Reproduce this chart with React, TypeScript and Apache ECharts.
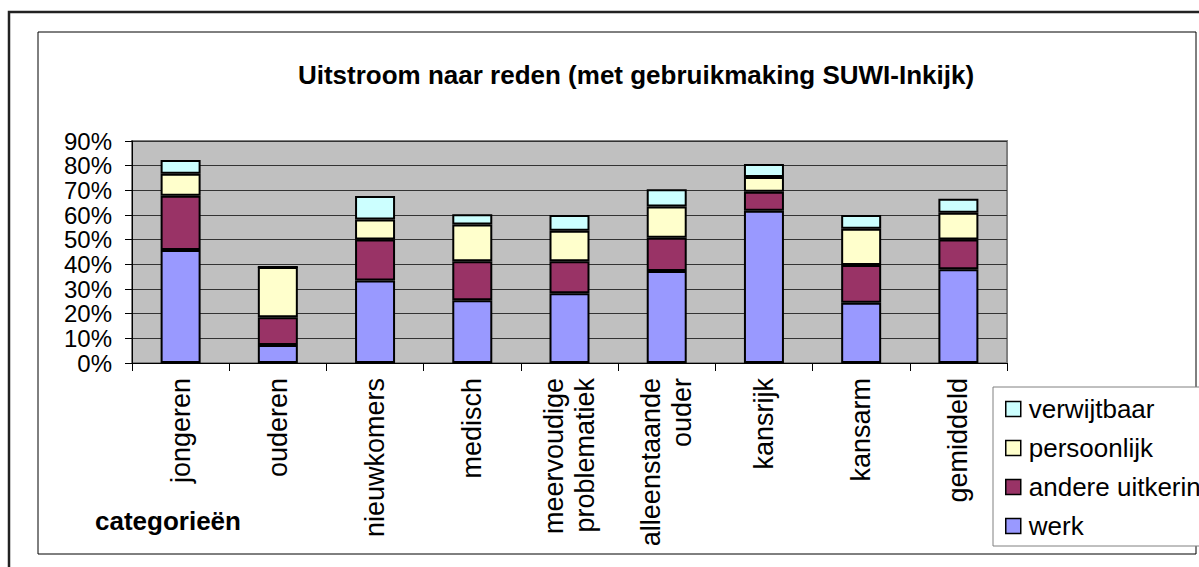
import React, { useEffect, useRef } from "react";
import * as echarts from "echarts";

const categories = [
  "jongeren",
  "ouderen",
  "nieuwkomers",
  "medisch",
  "meervoudige\nproblematiek",
  "alleenstaande\nouder",
  "kansrijk",
  "kansarm",
  "gemiddeld",
];
const werk = [45.8, 7.3, 33.4, 25.4, 28.3, 37.3, 61.7, 24.4, 38.0];
const andereUitkering = [22.0, 11.2, 16.7, 15.9, 12.9, 13.5, 7.7, 15.3, 12.1];
const persoonlijk = [8.9, 20.4, 8.1, 14.8, 12.4, 12.6, 6.0, 14.7, 10.8];
const verwijtbaar = [5.6, 0, 9.5, 4.2, 6.4, 7.0, 5.3, 5.6, 5.7];
const yTicks = { min: 0, max: 90, interval: 10 };

const FONT = "Liberation Sans, Arial, sans-serif";

export default function App() {
  const ref = useRef<HTMLDivElement>(null);
  useEffect(() => {
    document.body.style.margin = "0";
    const chart = echarts.init(ref.current!, null, { renderer: "svg" });
    const mk = (name: string, data: number[], color: string) => ({
      name,
      type: "bar",
      stack: "total",
      barWidth: 40,
      data,
      itemStyle: { color, borderColor: "#000", borderWidth: 2 },
      emphasis: { disabled: true },
    });
    chart.setOption({
      animation: false,
      graphic: [
        {
          type: "rect",
          shape: { x: 9, y: 12, width: 1400, height: 800 },
          style: { fill: "none", stroke: "#222", lineWidth: 2.5 },
          silent: true,
        },
        {
          type: "rect",
          shape: { x: 38, y: 32, width: 1158, height: 522 },
          style: { fill: "#fff", stroke: "#000", lineWidth: 1 },
          silent: true,
          z: -10,
        },
        {
          type: "text",
          x: 636,
          y: 75,
          style: {
            text: "Uitstroom naar reden (met gebruikmaking SUWI-Inkijk)",
            fontFamily: FONT,
            fontSize: 26,
            fontWeight: "bold",
            fill: "#000",
            align: "center",
            verticalAlign: "middle",
          },
        },
        {
          type: "text",
          x: 95,
          y: 521,
          style: {
            text: "categorieën",
            fontFamily: FONT,
            fontSize: 26,
            fontWeight: "bold",
            fill: "#000",
            align: "left",
            verticalAlign: "middle",
          },
        },
      ],
      grid: {
        left: 132,
        right: 192,
        top: 141,
        bottom: 204,
        show: true,
        backgroundColor: "#C0C0C0",
        borderColor: "#808080",
        borderWidth: 2,
      },
      legend: {
        orient: "vertical",
        left: 993,
        top: 387,
        data: ["verwijtbaar", "persoonlijk", "andere uitkering", "werk"],
        icon: "rect",
        itemWidth: 15,
        itemHeight: 15,
        itemGap: 13,
        padding: [9, 40, 7, 12],
        backgroundColor: "#fff",
        borderColor: "#808080",
        borderWidth: 1,
        borderRadius: 0,
        itemStyle: { borderColor: "#000", borderWidth: 1.5 },
        textStyle: {
          fontFamily: FONT,
          fontSize: 26,
          lineHeight: 26,
          color: "#000",
          padding: [0, 0, 0, 3],
        },
      },
      xAxis: {
        type: "category",
        data: categories,
        axisLine: { lineStyle: { color: "#000", width: 1 } },
        axisTick: { show: true, length: 8, lineStyle: { color: "#000" } },
        axisLabel: {
          interval: 0,
          rotate: 90,
          margin: 15,
          fontFamily: FONT,
          fontSize: 27,
          lineHeight: 31,
          color: "#000",
        },
        splitLine: { show: false },
      },
      yAxis: {
        type: "value",
        min: yTicks.min,
        max: yTicks.max,
        interval: yTicks.interval,
        axisLine: { show: true, lineStyle: { color: "#000", width: 1 } },
        axisTick: { show: true, length: 7, lineStyle: { color: "#000" } },
        axisLabel: {
          formatter: "{value}%",
          margin: 20,
          fontFamily: FONT,
          fontSize: 24,
          lineHeight: 24,
          color: "#000",
          showMinLabel: true,
          showMaxLabel: true,
          hideOverlap: false,
        },
        splitLine: { show: true, lineStyle: { color: "#333", width: 1 } },
      },
      series: [
        mk("werk", werk, "#9999FF"),
        mk("andere uitkering", andereUitkering, "#993366"),
        mk("persoonlijk", persoonlijk, "#FFFFCC"),
        mk("verwijtbaar", verwijtbaar, "#CCFFFF"),
      ],
    });
    return () => chart.dispose();
  }, []);
  return <div ref={ref} style={{ width: 1199, height: 567 }} />;
}
